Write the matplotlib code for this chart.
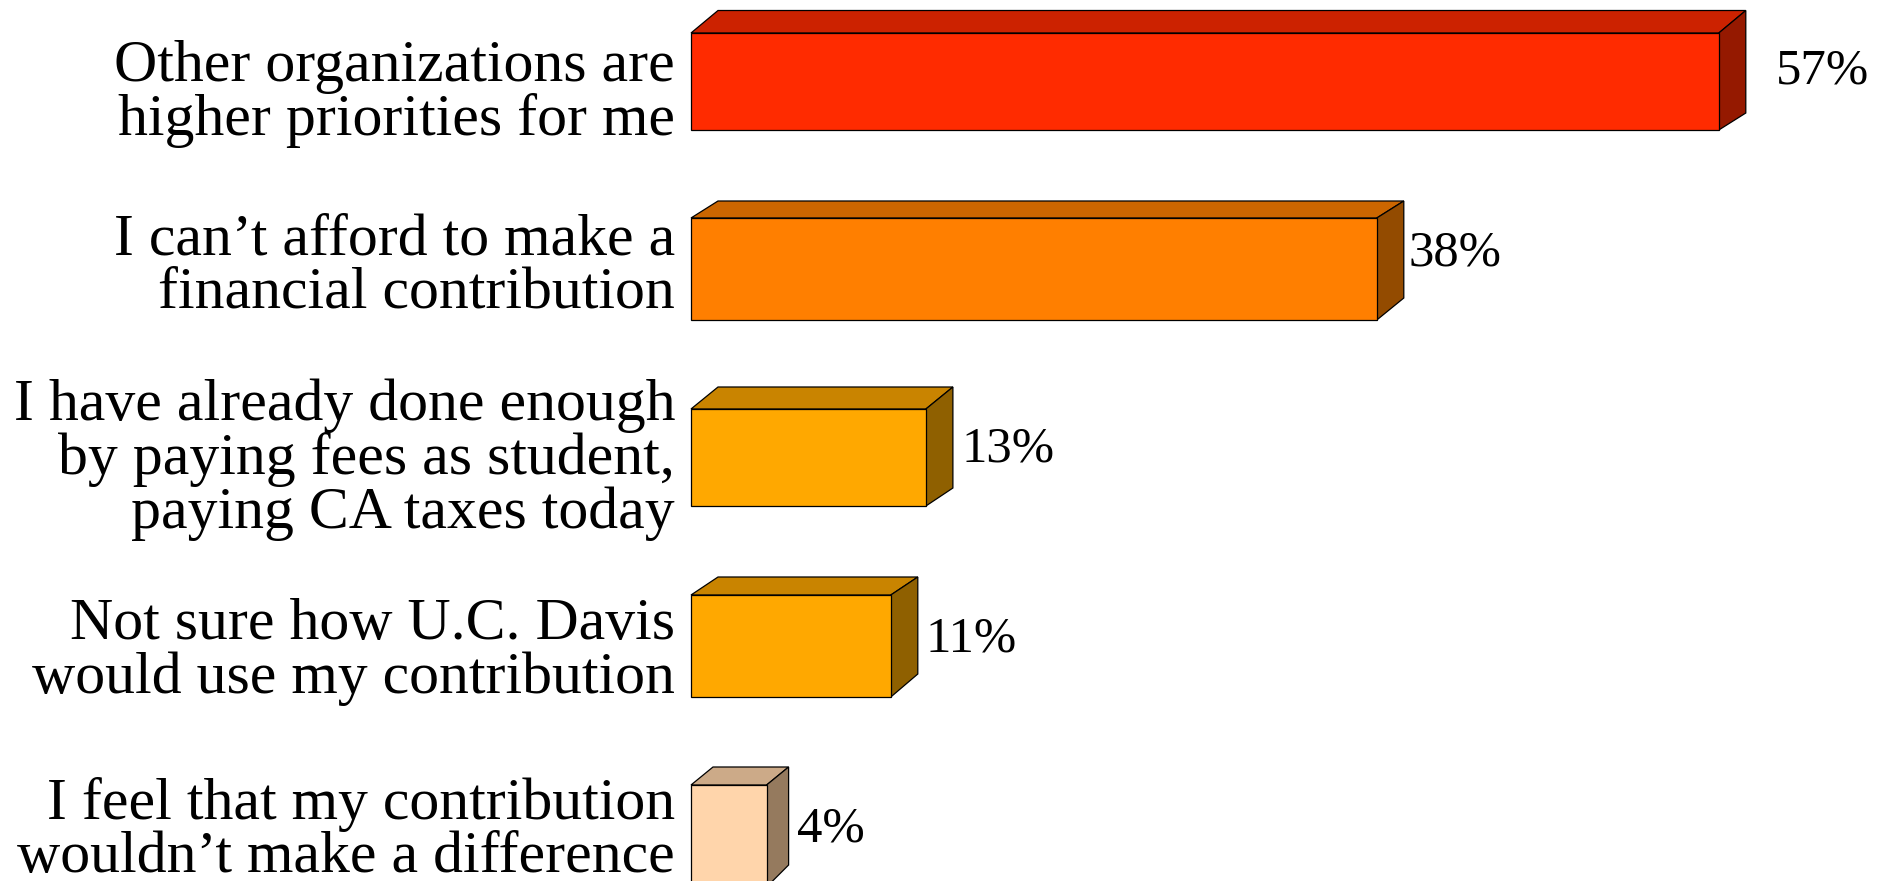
import matplotlib
matplotlib.use('Agg')
import matplotlib.pyplot as plt

# Survey values
labels = ['Other organizations are\nhigher priorities for me',
          'I can\u2019t afford to make a\nfinancial contribution',
          'I have already done enough\nby paying fees as student,\npaying CA taxes today',
          'Not sure how U.C. Davis\nwould use my contribution',
          'I feel that my contribution\nwouldn\u2019t make a difference']
value_labels = ['57%', '38%', '13%', '11%', '4%']
values = [57.1, 38.1, 13.05, 11.1, 4.2]  # bar lengths as drawn

# Colours: front, top, side
front_colors = ['#FF2B00', '#FF7F00', '#FFA800', '#FFA800', '#FFD5AB']
top_colors = ['#CC2200', '#CC6600', '#C98400', '#C98400', '#CCAA88']
side_colors = ['#951900', '#934B00', '#8F6000', '#8F6000', '#957A5E']

# Layout in pixels
W, H = 1887, 881
left_px = 691
px_per_pct = 18.0
bar_top = [33, 218, 409, 595, 785]
bar_bottom = [130, 320, 506, 697, 887]
back_top = [10.5, 201, 387, 577, 767]
back_bottom = [113, 298, 488, 674, 865]
depth = [27, 27, 27, 27, 22]
label_base = [135, 308, 528, 693, 872]
value_x = [1776, 1408, 962, 926, 797]
value_base = [84, 265, 461, 652, 842]

fig = plt.figure(figsize=(W / 100, H / 100), dpi=100)
ax = fig.add_axes([0, 0, 1, 1])
ax.set_xlim(-left_px / px_per_pct, (W - left_px) / px_per_pct)
ax.set_ylim(H, 0)
ax.axis('off')

font = 'Liberation Serif'
for i in range(len(values)):
    dx = depth[i] / px_per_pct
    v = values[i]
    # top face
    ax.fill([0, dx, v + dx, v], [bar_top[i], back_top[i], back_top[i], bar_top[i]],
            facecolor=top_colors[i], edgecolor='black', linewidth=0.9)
    # side face
    ax.fill([v, v + dx, v + dx, v], [bar_top[i], back_top[i], back_bottom[i], bar_bottom[i]],
            facecolor=side_colors[i], edgecolor='black', linewidth=0.9)
    # front face
    ax.barh((bar_top[i] + bar_bottom[i]) / 2, v, height=bar_bottom[i] - bar_top[i],
            color=front_colors[i], edgecolor='black', linewidth=0.9)
    ax.text(-16 / px_per_pct, label_base[i], labels[i], ha='right', va='baseline', multialignment='right',
            family=font, fontsize=43, linespacing=0.985, color='black')
    ax.text((value_x[i] - left_px) / px_per_pct, value_base[i], value_labels[i], ha='left', va='baseline',
            family=font, fontsize=36.5, color='black')

fig.savefig('out.png', dpi=100, facecolor='white')
